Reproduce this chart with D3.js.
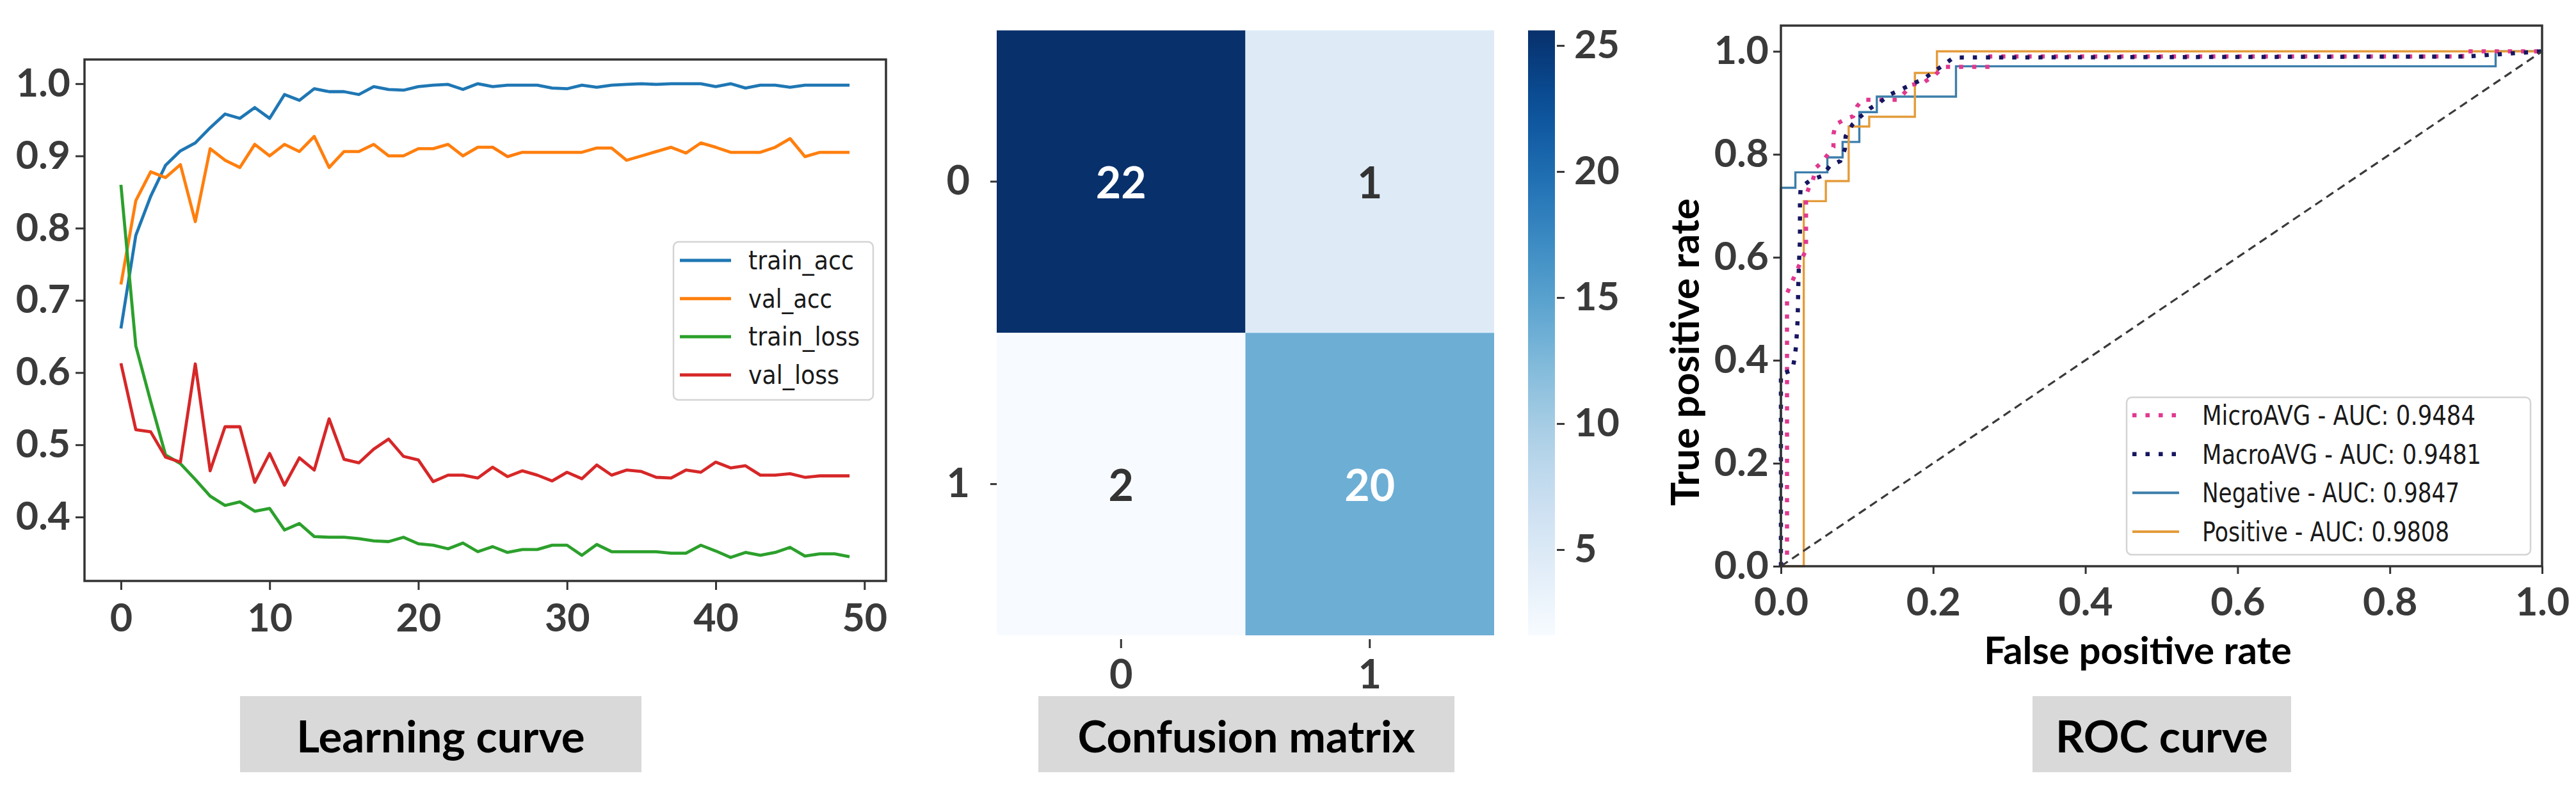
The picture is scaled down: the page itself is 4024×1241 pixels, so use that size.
<!DOCTYPE html>
<html>
<head>
<meta charset="utf-8">
<script src="https://cdn.jsdelivr.net/npm/d3@7"></script>
<style>
  body { margin: 0; background: #fff; }
  svg { display: block; background: #fff; }
  .axis text { font-family: Lato, "Open Sans", sans-serif; font-weight: 700; fill: #3a3a3a; }
  .axis line, .axis path { stroke: #333; stroke-width: 3; }
  .legend text { font-family: "DejaVu Sans", sans-serif; fill: #1a1a1a; }
  .caption text { font-family: Lato, "Open Sans", sans-serif; font-weight: 700; fill: #000; }
</style>
</head>
<body>
<svg id="fig" width="4024" height="1241"></svg>
<script>
// ---- learning curve (one value per epoch, epoch = index) ----
const lcXTicks = [0, 10, 20, 30, 40, 50];
const lcYTicks = [0.4, 0.5, 0.6, 0.7, 0.8, 0.9, 1.0];
const lcSeriesNames = ['train_acc', 'val_acc', 'train_loss', 'val_loss'];
const trainAcc = [0.661, 0.790, 0.844, 0.887, 0.907, 0.918, 0.939, 0.958, 0.952, 0.967,
  0.952, 0.985, 0.977, 0.993, 0.989, 0.989, 0.985, 0.996, 0.992, 0.991,
  0.996, 0.998, 0.999, 0.992, 1.000, 0.996, 0.998, 0.998, 0.998, 0.994,
  0.993, 0.998, 0.995, 0.998, 0.999, 1.000, 0.999, 1.000, 1.000, 1.000,
  0.996, 1.000, 0.994, 0.998, 0.998, 0.995, 0.998, 0.998, 0.998, 0.998];
const valAcc = [0.722, 0.838, 0.878, 0.870, 0.888, 0.809, 0.910, 0.894, 0.884, 0.916,
  0.900, 0.916, 0.906, 0.927, 0.884, 0.906, 0.906, 0.916, 0.900, 0.900,
  0.910, 0.910, 0.916, 0.900, 0.912, 0.912, 0.899, 0.905, 0.905, 0.905,
  0.905, 0.905, 0.911, 0.911, 0.894, 0.900, 0.906, 0.912, 0.904, 0.918,
  0.912, 0.905, 0.905, 0.905, 0.912, 0.924, 0.899, 0.905, 0.905, 0.905];
const trainLoss = [0.860, 0.637, 0.560, 0.486, 0.474, 0.452, 0.429, 0.416, 0.421, 0.408,
  0.412, 0.382, 0.391, 0.373, 0.372, 0.372, 0.370, 0.367, 0.366, 0.372,
  0.363, 0.361, 0.356, 0.364, 0.352, 0.359, 0.351, 0.355, 0.355, 0.361,
  0.361, 0.347, 0.362, 0.352, 0.352, 0.352, 0.352, 0.350, 0.350, 0.361,
  0.353, 0.344, 0.351, 0.347, 0.351, 0.358, 0.346, 0.349, 0.349, 0.345];
const valLoss = [0.613, 0.521, 0.518, 0.483, 0.476, 0.612, 0.464, 0.525, 0.525, 0.448,
  0.488, 0.444, 0.482, 0.465, 0.536, 0.480, 0.475, 0.494, 0.508, 0.484,
  0.479, 0.449, 0.458, 0.458, 0.454, 0.469, 0.456, 0.464, 0.458, 0.450,
  0.462, 0.453, 0.472, 0.458, 0.465, 0.463, 0.455, 0.454, 0.465, 0.462,
  0.476, 0.468, 0.471, 0.458, 0.458, 0.460, 0.455, 0.457, 0.457, 0.457];

// ---- confusion matrix ----
const cmLabels = ['0', '1'];
const cmCounts = [[22, 1], [2, 20]];
// colour of each cell
const cmShade = [[25.6, 4.6], [1.6, 13.6]];
const cbDomain = [1.6, 25.6];
const cbTicks = [5, 10, 15, 20, 25];

// ---- ROC curves: [fpr, tpr] ----
const rocTicks = [0.0, 0.2, 0.4, 0.6, 0.8, 1.0];
const rocLabels = ['MicroAVG - AUC: 0.9484', 'MacroAVG - AUC: 0.9481',
  'Negative - AUC: 0.9847', 'Positive - AUC: 0.9808'];
const rocMicro = [[0, 0], [0.008, 0.02], [0.008, 0.53], [0.033, 0.615], [0.033, 0.72],
  [0.037, 0.736], [0.042, 0.75], [0.046, 0.774], [0.054, 0.785], [0.069, 0.814],
  [0.069, 0.839], [0.072, 0.858], [0.084, 0.868], [0.095, 0.874], [0.100, 0.893],
  [0.107, 0.906], [0.154, 0.906], [0.172, 0.935], [0.188, 0.940], [0.203, 0.955],
  [0.214, 0.970], [0.275, 0.970], [0.275, 0.990], [0.895, 0.990], [0.895, 1.0], [1, 1]];
const rocMacro = [[0, 0], [0, 0.373], [0.015, 0.381], [0.018, 0.404], [0.020, 0.429],
  [0.022, 0.48], [0.023, 0.56], [0.025, 0.634], [0.025, 0.712], [0.026, 0.736],
  [0.039, 0.750], [0.054, 0.758], [0.064, 0.777], [0.078, 0.787], [0.084, 0.810],
  [0.085, 0.835], [0.094, 0.858], [0.105, 0.874], [0.117, 0.889], [0.130, 0.901],
  [0.143, 0.916], [0.158, 0.926], [0.172, 0.936], [0.188, 0.947], [0.214, 0.974],
  [0.227, 0.988], [0.9, 0.99], [1, 1]];
const rocNeg = [[0, 0], [0, 0.735], [0.019, 0.735], [0.019, 0.765], [0.061, 0.765],
  [0.061, 0.794], [0.081, 0.794], [0.081, 0.824], [0.103, 0.824], [0.103, 0.882],
  [0.126, 0.882], [0.126, 0.912], [0.230, 0.912], [0.230, 0.971], [0.939, 0.971],
  [0.939, 1.0], [1, 1]];
const rocPos = [[0, 0], [0.030, 0], [0.030, 0.709], [0.059, 0.709], [0.059, 0.748],
  [0.089, 0.748], [0.089, 0.854], [0.116, 0.854], [0.116, 0.873], [0.176, 0.873],
  [0.176, 0.958], [0.205, 0.958], [0.205, 1.0], [1, 1]];
const rocChance = [[0, 0], [1, 1]];

const captions = ['Learning curve', 'Confusion matrix', 'ROC curve'];

const svg = d3.select('#fig');
const tickFont = 61;

// ============ Learning curve ============
const lc = { left: 132, right: 1384, top: 93, bottom: 908 };
const xL = d3.scaleLinear().domain([-2.45, 51.45]).range([lc.left, lc.right]);
const yL = d3.scaleLinear().domain([0.3115, 1.0335]).range([lc.bottom, lc.top]);
const lcColors = ['#1f77b4', '#ff7f0e', '#2ca02c', '#d62728'];
const lcData = [trainAcc, valAcc, trainLoss, valLoss];

const lcLine = d3.line().x((d, i) => xL(i)).y((d) => yL(d));
svg.append('g')
  .selectAll('path')
  .data(lcData)
  .join('path')
  .attr('d', lcLine)
  .attr('fill', 'none')
  .attr('stroke', (d, i) => lcColors[i])
  .attr('stroke-width', 4.8)
  .attr('stroke-linejoin', 'round');

svg.append('rect')
  .attr('x', lc.left).attr('y', lc.top)
  .attr('width', lc.right - lc.left).attr('height', lc.bottom - lc.top)
  .attr('fill', 'none').attr('stroke', '#333').attr('stroke-width', 3.5);

svg.append('g').attr('class', 'axis')
  .attr('transform', `translate(0,${lc.bottom})`)
  .call(d3.axisBottom(xL).tickValues(lcXTicks).tickSize(14).tickPadding(22).tickFormat(d3.format('d')))
  .call((g) => g.select('.domain').remove())
  .selectAll('text').attr('font-size', tickFont);

svg.append('g').attr('class', 'axis')
  .attr('transform', `translate(${lc.left},0)`)
  .call(d3.axisLeft(yL).tickValues(lcYTicks).tickSize(14).tickPadding(8).tickFormat(d3.format('.1f')))
  .call((g) => g.select('.domain').remove())
  .selectAll('text').attr('font-size', tickFont);

// legend
const lcLeg = svg.append('g').attr('class', 'legend');
lcLeg.append('rect')
  .attr('x', 1052).attr('y', 378).attr('width', 312).attr('height', 247).attr('rx', 8)
  .attr('fill', '#fff').attr('fill-opacity', 0.8)
  .attr('stroke', '#d4d4d4').attr('stroke-width', 2.5);
const lcLegY = d3.scalePoint().domain(lcSeriesNames).range([407, 586]);
const lcLegWidth = { train_acc: 165, val_acc: 131, train_loss: 174, val_loss: 142 };
lcSeriesNames.forEach((name, i) => {
  lcLeg.append('line')
    .attr('x1', 1062).attr('x2', 1142)
    .attr('y1', lcLegY(name)).attr('y2', lcLegY(name))
    .attr('stroke', lcColors[i]).attr('stroke-width', 5);
  lcLeg.append('text')
    .attr('x', 1169).attr('y', lcLegY(name) + 14)
    .attr('font-size', 40)
    .attr('textLength', lcLegWidth[name]).attr('lengthAdjust', 'spacingAndGlyphs')
    .text(name);
});

// ============ Confusion matrix ============
const cm = { left: 1557, right: 2334, top: 47.5, bottom: 993 };
const xC = d3.scaleBand().domain(cmLabels).range([cm.left, cm.right]);
const yC = d3.scaleBand().domain(cmLabels).range([cm.top, cm.bottom]);
const cmColor = d3.scaleSequential(d3.interpolateBlues).domain(cbDomain);

const cells = [];
cmCounts.forEach((row, r) => row.forEach((v, c) => {
  cells.push({ row: cmLabels[r], col: cmLabels[c], count: v, shade: cmShade[r][c] });
}));

svg.append('g')
  .selectAll('rect')
  .data(cells)
  .join('rect')
  .attr('x', (d) => xC(d.col))
  .attr('y', (d) => yC(d.row))
  .attr('width', xC.bandwidth())
  .attr('height', yC.bandwidth())
  .attr('fill', (d) => cmColor(d.shade));

svg.append('g')
  .selectAll('text')
  .data(cells)
  .join('text')
  .attr('x', (d) => xC(d.col) + xC.bandwidth() / 2)
  .attr('y', (d) => yC(d.row) + yC.bandwidth() / 2)
  .attr('text-anchor', 'middle')
  .attr('dominant-baseline', 'central')
  .attr('font-family', 'Lato, "Open Sans", sans-serif')
  .attr('font-weight', 700)
  .attr('font-size', 68)
  .attr('fill', (d) => (d.shade > 10 ? '#fff' : '#333'))
  .text((d) => d.count);

svg.append('g').attr('class', 'axis')
  .attr('transform', `translate(${cm.left},0)`)
  .call(d3.axisLeft(yC).tickSize(10).tickPadding(32))
  .call((g) => g.select('.domain').remove())
  .selectAll('text').attr('font-size', 63);

svg.append('g').attr('class', 'axis')
  .attr('transform', `translate(0,${cm.bottom + 6})`)
  .call(d3.axisBottom(xC).tickSize(14).tickPadding(18))
  .call((g) => g.select('.domain').remove())
  .selectAll('text').attr('font-size', 63);

// colour bar
const cb = { left: 2387, right: 2429 };
const yCb = d3.scaleLinear().domain(cbDomain).range([cm.bottom, cm.top]);
const grad = svg.append('defs').append('linearGradient')
  .attr('id', 'cbGrad').attr('x1', 0).attr('x2', 0).attr('y1', 1).attr('y2', 0);
grad.selectAll('stop')
  .data(d3.range(0, 1.0001, 0.05))
  .join('stop')
  .attr('offset', (t) => t)
  .attr('stop-color', (t) => cmColor(cbDomain[0] + t * (cbDomain[1] - cbDomain[0])));
svg.append('rect')
  .attr('x', cb.left).attr('y', cm.top)
  .attr('width', cb.right - cb.left).attr('height', cm.bottom - cm.top)
  .attr('fill', 'url(#cbGrad)');
svg.append('g').attr('class', 'axis')
  .attr('transform', `translate(${cb.right + 3},0)`)
  .call(d3.axisRight(yCb).tickValues(cbTicks).tickSize(12).tickPadding(15))
  .call((g) => g.select('.domain').remove())
  .selectAll('text').attr('font-size', tickFont);

// ============ ROC ============
const rc = { left: 2782, right: 3971, top: 40, bottom: 885 };
const xR = d3.scaleLinear().domain([0, 1]).range([rc.left, rc.right]);
const yR = d3.scaleLinear().domain([0, 1.05]).range([rc.bottom, rc.top]);
const rocLine = d3.line().x((d) => xR(d[0])).y((d) => yR(d[1]));

const rocStyles = [
  { data: rocNeg, color: '#3d7eaa', width: 3.4, dash: null },
  { data: rocPos, color: '#e49c3b', width: 3.4, dash: null },
  { data: rocMicro, color: '#e0398f', width: 6.5, dash: '6.5,14' },
  { data: rocMacro, color: '#161660', width: 6.5, dash: '6.5,14' },
  { data: rocChance, color: '#3a3a3a', width: 3.2, dash: '13,8' },
];

svg.append('g')
  .selectAll('path')
  .data(rocStyles)
  .join('path')
  .attr('d', (d) => rocLine(d.data))
  .attr('fill', 'none')
  .attr('stroke', (d) => d.color)
  .attr('stroke-width', (d) => d.width)
  .attr('stroke-dasharray', (d) => d.dash);

svg.append('rect')
  .attr('x', rc.left).attr('y', rc.top)
  .attr('width', rc.right - rc.left).attr('height', rc.bottom - rc.top)
  .attr('fill', 'none').attr('stroke', '#333').attr('stroke-width', 3.5);

svg.append('g').attr('class', 'axis')
  .attr('transform', `translate(0,${rc.bottom})`)
  .call(d3.axisBottom(xR).tickValues(rocTicks).tickSize(12).tickPadding(22).tickFormat(d3.format('.1f')))
  .call((g) => g.select('.domain').remove())
  .selectAll('text').attr('font-size', tickFont);

svg.append('g').attr('class', 'axis')
  .attr('transform', `translate(${rc.left},0)`)
  .call(d3.axisLeft(yR).tickValues(rocTicks).tickSize(12).tickPadding(7).tickFormat(d3.format('.1f')))
  .call((g) => g.select('.domain').remove())
  .selectAll('text').attr('font-size', tickFont);

const axisTitle = svg.append('g').attr('class', 'caption');
axisTitle.append('text')
  .attr('x', (rc.left + rc.right) / 2 - 37).attr('y', 1015)
  .attr('text-anchor', 'middle').attr('dominant-baseline', 'central')
  .attr('font-size', 60)
  .text('False positive rate');
axisTitle.append('text')
  .attr('transform', `translate(2630,${(rc.top + rc.bottom) / 2 + 88}) rotate(-90)`)
  .attr('text-anchor', 'middle').attr('dominant-baseline', 'central')
  .attr('font-size', 62)
  .text('True positive rate');

// ROC legend
const rLeg = svg.append('g').attr('class', 'legend');
rLeg.append('rect')
  .attr('x', 3322).attr('y', 621).attr('width', 631).attr('height', 246).attr('rx', 8)
  .attr('fill', '#fff').attr('fill-opacity', 0.8)
  .attr('stroke', '#d4d4d4').attr('stroke-width', 2.5);
const rLegY = d3.scalePoint().domain(rocLabels).range([649, 831]);
const rLegWidth = [427, 436, 402, 386];
const legOrder = [rocStyles[2], rocStyles[3], rocStyles[0], rocStyles[1]];
rocLabels.forEach((label, i) => {
  const s = legOrder[i];
  rLeg.append('line')
    .attr('x1', 3331).attr('x2', 3404)
    .attr('y1', rLegY(label)).attr('y2', rLegY(label))
    .attr('stroke', s.color).attr('stroke-width', s.dash ? 6.5 : 4)
    .attr('stroke-dasharray', s.dash);
  rLeg.append('text')
    .attr('x', 3440).attr('y', rLegY(label) + 15)
    .attr('font-size', 43)
    .attr('textLength', rLegWidth[i]).attr('lengthAdjust', 'spacingAndGlyphs')
    .text(label);
});

// ============ captions ============
const capBoxes = [[375, 1002], [1622, 2272], [3175, 3579]];
const cap = svg.append('g').attr('class', 'caption');
cap.selectAll('rect')
  .data(capBoxes)
  .join('rect')
  .attr('x', (d) => d[0]).attr('y', 1088)
  .attr('width', (d) => d[1] - d[0]).attr('height', 119)
  .attr('fill', '#d9d9d9');
cap.selectAll('text')
  .data(captions)
  .join('text')
  .attr('x', (d, i) => (capBoxes[i][0] + capBoxes[i][1]) / 2)
  .attr('y', 1149)
  .attr('text-anchor', 'middle')
  .attr('dominant-baseline', 'central')
  .attr('font-size', 69)
  .text((d) => d);
</script>
</body>
</html>
